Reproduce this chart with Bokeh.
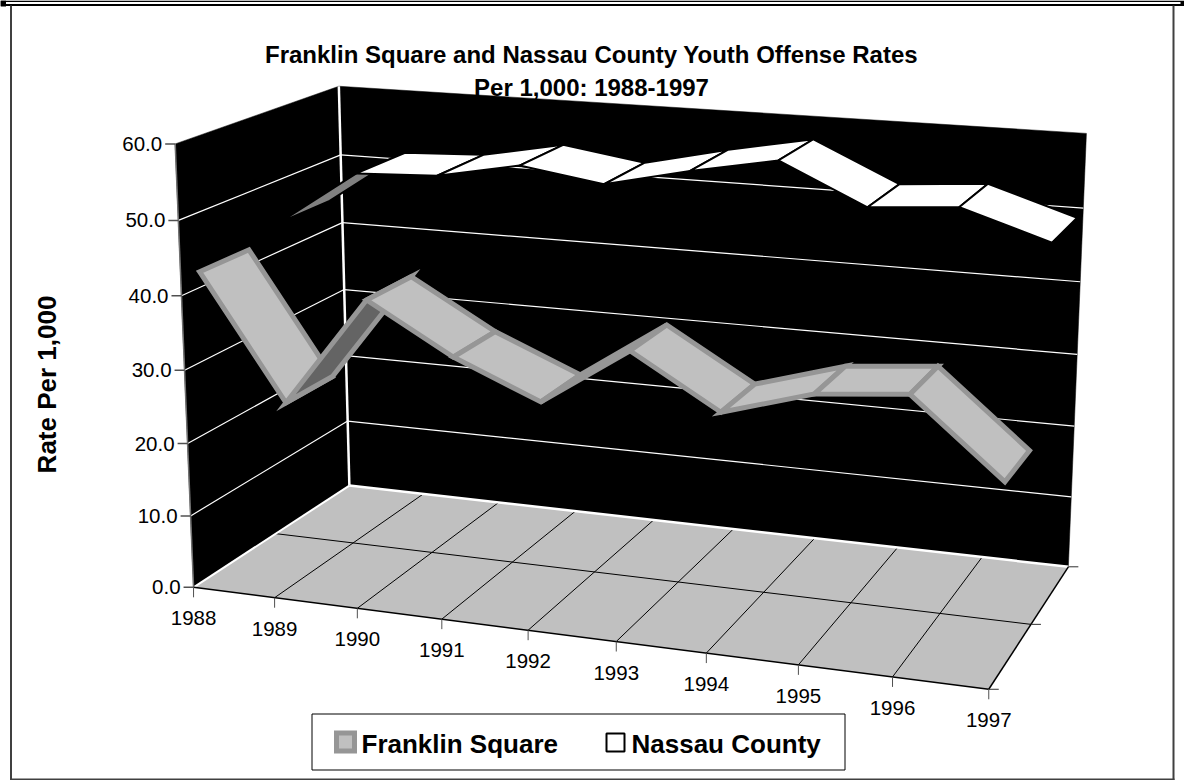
import numpy as np
from bokeh.plotting import figure
from bokeh.embed import file_html
from bokeh.resources import INLINE
from bokeh.core.properties import value

# Chart data
years = [1988, 1989, 1990, 1991, 1992, 1993, 1994, 1995, 1996, 1997]
franklin_square = [42.1, 25.4, 40.3, 33.8, 29.0, 36.8, 30.0, 33.5, 34.6, 24.8]
nassau_county = [44.0, 51.8, 52.3, 54.5, 52.8, 55.4, 57.6, 52.3, 53.2, 49.5]
rate_ticks = [0, 10, 20, 30, 40, 50, 60]
RATE_MAX = 60

FONT = value("Liberation Sans")
WALL = "#000000"
FLOOR = "#C0C0C0"
BAND = "#969696"
BAND_UNDER = "#646464"

# Perspective camera of the 3-D box, solved from where seven box corners
# (category 0..1, rate 0..60, depth 0..1) fall on the canvas.
box_corners = [
    ((0, 0, 0), (193, 587)), ((1, 0, 0), (988, 689)), ((1, 0, 1), (1068, 566)),
    ((0, 0, 1), (349, 485)), ((0, 60, 0), (175, 143)), ((0, 60, 1), (338, 86)),
    ((1, 60, 1), (1086, 133)),
]
rows = []
for (u, z, d), (sx, sy) in box_corners:
    X = [u, z / RATE_MAX, d, 1]
    rows.append(X + [0, 0, 0, 0] + [-sx * a for a in X])
    rows.append([0, 0, 0, 0] + X + [-sy * a for a in X])
CAMERA = np.linalg.svd(np.array(rows, float))[2][-1].reshape(3, 4)


def project(u, z, d):
    v = CAMERA @ np.array([u, z / RATE_MAX, d, 1.0])
    return float(v[0] / v[2]), float(v[1] / v[2])


def cat_u(i):
    return i / (len(years) - 1)


p = figure(width=1184, height=780, x_range=(0, 1184), y_range=(780, 0),
           output_backend="svg", toolbar_location=None, min_border=0,
           background_fill_color="white", border_fill_color="white")
p.axis.visible = False
p.grid.visible = False
p.outline_line_color = None


def box(x0, y0, x1, y1, **kw):
    p.quad(left=x0, right=x1, top=y0, bottom=y1, **kw)


def segment(a, b, color, width, cap="butt"):
    p.line([a[0], b[0]], [a[1], b[1]], line_color=color, line_width=width, line_cap=cap)


def label(x, y, text, size, bold=False, align="center", angle=0.0):
    p.text([x], [y], text=[text], text_font=FONT, text_font_size=value(size),
           text_font_style="bold" if bold else "normal", text_align=align,
           text_baseline="middle", text_color="black", angle=angle)


# Frame around the chart area
box(0, 0, 1184, 5.5, fill_color="black", line_color=None)
box(5.5, 1.5, 1180, 3.5, fill_color="white", line_color=None)
box(0, 0, 5.5, 6, fill_color="black", line_color=None)
box(9.5, 5, 11.5, 780, fill_color="#404040", line_color=None)
box(1172, 5, 1174, 780, fill_color="#404040", line_color=None)
box(9.5, 778, 1174, 780, fill_color="#404040", line_color=None)

# Title sits behind the walls
label(591, 54, "Franklin Square and Nassau County Youth Offense Rates", "24px", bold=True)
label(591, 87, "Per 1,000: 1988-1997", "24px", bold=True)
label(46, 384, "Rate Per 1,000", "26px", bold=True, angle=np.pi / 2)

# Walls
corners_left = [project(0, 0, 0), project(0, RATE_MAX, 0), project(0, RATE_MAX, 1), project(0, 0, 1)]
corners_back = [project(0, 0, 1), project(0, RATE_MAX, 1), project(1, RATE_MAX, 1), project(1, 0, 1)]
for quad_pts in (corners_left, corners_back):
    p.patch([q[0] for q in quad_pts], [q[1] for q in quad_pts], fill_color=WALL, line_color=WALL, line_width=0.5)

# Floor
floor_pts = [project(0, 0, 0), project(1, 0, 0), project(1, 0, 1), project(0, 0, 1)]
p.patch([q[0] for q in floor_pts], [q[1] for q in floor_pts], fill_color=FLOOR, line_color=None)

# Gridlines on the walls
for t in rate_ticks[1:-1]:
    segment(project(0, t, 0), project(0, t, 1), "white", 1.2)
    segment(project(0, t, 1), project(1, t, 1), "white", 1.2)

# Gridlines on the floor
for i in range(1, len(years) - 1):
    segment(project(cat_u(i), 0, 0), project(cat_u(i), 0, 1), "black", 1)
segment(project(0, 0, 0.5), project(1, 0, 0.5), "black", 1)

# Box edges
segment(project(0, 0, 1), project(0, RATE_MAX, 1), "white", 2.5)
segment(project(0, 0, 0), project(0, 0, 1), "white", 2)
segment(project(0, 0, 1), project(1, 0, 1), "white", 2.5)
segment(project(0, 0, 0), project(0, RATE_MAX, 0), "#707070", 1.5)
segment(project(0, 0, 0), project(1, 0, 0), "black", 1.5)
segment(project(1, 0, 0), project(1, 0, 1), "black", 1.5)

# Rate axis ticks and labels
for t in rate_ticks:
    x, y = project(0, t, 0)
    segment((x - 10, y), (x, y), "#505050", 1.5)
    label(x - 13, y, f"{t:.1f}", "20.5px", align="right")

# Year axis ticks and labels
for i, yr in enumerate(years):
    x, y = project(cat_u(i), 0, 0)
    segment((x, y), (x, y + 10), "#505050", 1)
    label(x, y + 31, str(yr), "20.5px")

# Depth axis ticks
for d in (0, 0.5, 1):
    x, y = project(1, 0, d)
    segment((x, y), (x + 10, y), "#303030", 1)


def ribbon(values, d_front, d_back, top_fill, under_fill, edge, edge_width):
    """Draw one series as a band of quads, left to right so later quads overlap earlier ones."""
    for i in range(len(values) - 1):
        a = project(cat_u(i), values[i], d_front)
        b = project(cat_u(i + 1), values[i + 1], d_front)
        c = project(cat_u(i + 1), values[i + 1], d_back)
        e = project(cat_u(i), values[i], d_back)
        pts = [a, b, c, e]
        # The winding of the quad on screen tells which face is turned to the viewer
        area = sum(pts[k][0] * pts[(k + 1) % 4][1] - pts[(k + 1) % 4][0] * pts[k][1] for k in range(4))
        fill = under_fill if area > 0 else top_fill
        p.patch([q[0] for q in pts], [q[1] for q in pts], fill_color=fill,
                line_color=edge, line_width=edge_width, line_join="miter")


ribbon(nassau_county, 7 / 12, 11 / 12, "white", "#808080", "black", 2)
ribbon(franklin_square, 0.105, 0.395, FLOOR, BAND_UNDER, BAND, 5)

# Legend
box(311.5, 713.5, 844.5, 769.5, fill_color="white", line_color="black", line_width=1)
box(336, 732.5, 354, 750.5, fill_color=FLOOR, line_color=BAND, line_width=5, line_join="miter")
label(361, 743, "Franklin Square", "26px", bold=True, align="left")
box(606, 733, 624, 751, fill_color="white", line_color="black", line_width=2)
label(631, 743, "Nassau County", "26px", bold=True, align="left")

open("out.html", "w").write(file_html(p, INLINE))
